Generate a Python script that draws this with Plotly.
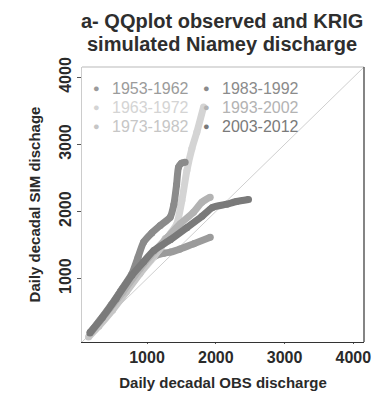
import plotly.graph_objects as go

# ---- data (observed quantile, simulated quantile) ----
decades = ["1953-1962", "1963-1972", "1973-1982", "1983-1992", "1993-2002", "2003-2012"]
colors = ["#9b9b9b", "#d4d4d4", "#c6c6c6", "#8b8b8b", "#b3b3b3", "#7a7a7a"]

obs_1953 = [180, 300, 480, 650, 800, 950, 1100, 1250, 1340, 1480, 1680, 1920]
sim_1953 = [200, 360, 610, 860, 1060, 1230, 1330, 1380, 1395, 1440, 1520, 1617]

obs_1963 = [220, 450, 707, 900, 1095, 1337, 1434, 1507, 1580, 1652, 1725, 1822]
sim_1963 = [230, 530, 830, 1080, 1318, 1667, 1816, 2164, 2612, 2935, 3184, 3557]

obs_1973 = [150, 300, 500, 700, 900, 1050, 1200, 1265]
sim_1973 = [130, 290, 530, 800, 1080, 1280, 1460, 1597]

obs_1983 = [174, 320, 465, 620, 780, 870, 950, 1070, 1192, 1337, 1390, 1430, 1458, 1500, 1555]
sim_1983 = [199, 380, 572, 820, 1070, 1320, 1542, 1680, 1791, 1915, 2100, 2400, 2661, 2720, 2736]

obs_1993 = [200, 400, 650, 900, 1100, 1300, 1483, 1676, 1798, 1919]
sim_1993 = [220, 480, 800, 1150, 1400, 1620, 1816, 1990, 2139, 2214]

obs_2003 = [170, 350, 550, 780, 950, 1100, 1340, 1580, 1800, 1950, 2160, 2300, 2476]
sim_2003 = [190, 420, 700, 1050, 1250, 1420, 1580, 1760, 1930, 2060, 2110, 2150, 2180]

series_obs = [obs_1953, obs_1963, obs_1973, obs_1983, obs_1993, obs_2003]
series_sim = [sim_1953, sim_1963, sim_1973, sim_1983, sim_1993, sim_2003]

x_ticks = [1000, 2000, 3000, 4000]
y_ticks = [1000, 2000, 3000, 4000]
axis_range = [55, 4155]

# layout geometry (pixels)
W, H = 373, 396
ML, MR, MT, MB = 82, 9, 67, 54
PW, PH = W - ML - MR, H - MT - MB


def px_to_paper(px, py):
    return (px - ML) / PW, (H - MB - py) / PH


fig = go.Figure()

# curves
for name, col, xs, ys in zip(decades, colors, series_obs, series_sim):
    fig.add_trace(go.Scatter(
        x=xs, y=ys, mode="lines+markers", name=name, showlegend=False,
        line=dict(color=col, width=7, shape="spline", smoothing=0.6),
        marker=dict(color=col, size=7),
        hoverinfo="skip",
    ))

# 1:1 line
fig.add_shape(type="line", xref="x", yref="y",
              x0=axis_range[0], y0=axis_range[0], x1=axis_range[1], y1=axis_range[1],
              line=dict(color="#cfcfcf", width=1), layer="below")

# box: top and right edges
fig.add_shape(type="line", xref="paper", yref="paper", x0=0, y0=1, x1=1, y1=1,
              line=dict(color="#d0d0d0", width=1.5))
fig.add_shape(type="line", xref="paper", yref="paper", x0=1, y0=0, x1=1, y1=1,
              line=dict(color="#333333", width=1.2))

font_family = "Liberation Sans, Arial, sans-serif"

# title (two lines)
for txt, py in [("a- QQplot observed and KRIG", 21), ("simulated Niamey discharge", 44)]:
    xp, yp = px_to_paper(222, py)
    fig.add_annotation(text="<b>%s</b>" % txt, xref="paper", yref="paper", x=xp, y=yp,
                       xanchor="center", yanchor="middle", showarrow=False,
                       font=dict(size=20, color="#2e2e2e", family=font_family))

# legend drawn as text (2 columns x 3 rows)
leg_pos = {0: (96, 88), 1: (96, 107), 2: (96, 126), 3: (206, 88), 4: (206, 107), 5: (206, 126)}
for i, (mx, my) in leg_pos.items():
    xp, yp = px_to_paper(mx, my)
    fig.add_annotation(text="●", xref="paper", yref="paper", x=xp, y=yp,
                       xanchor="center", yanchor="middle", showarrow=False,
                       font=dict(size=11, color=colors[i], family=font_family))
    xt, yt = px_to_paper(mx + 14, my)
    fig.add_annotation(text=decades[i], xref="paper", yref="paper", x=xt, y=yt,
                       xanchor="left", yanchor="middle", showarrow=False,
                       font=dict(size=16, color=colors[i], family=font_family))

fig.update_layout(
    width=W, height=H,
    margin=dict(l=ML, r=MR, t=MT, b=MB, autoexpand=False),
    paper_bgcolor="white", plot_bgcolor="white",
    font=dict(family=font_family, color="#333333"),
    showlegend=False,
    xaxis=dict(
        range=axis_range, tickvals=x_ticks, ticktext=["<b>%d</b>" % v for v in x_ticks],
        showgrid=False, zeroline=False, automargin=False,
        showline=True, linecolor="#333333", linewidth=1.2, mirror=False,
        ticks="outside", ticklen=1, tickcolor="#555555",
        tickfont=dict(size=16, color="#2a2a2a", family=font_family),
        title=dict(text="<b>Daily decadal OBS discharge</b>", font=dict(size=15, color="#2a2a2a"),
                   standoff=12),
    ),
    yaxis=dict(
        range=axis_range, tickvals=y_ticks, ticktext=["<b>%d</b>" % v for v in y_ticks],
        showgrid=False, zeroline=False, automargin=False,
        showline=True, linecolor="#cccccc", linewidth=1.2, mirror=False,
        ticks="outside", ticklen=4, tickcolor="#555555", tickangle=-90,
        tickfont=dict(size=16, color="#2a2a2a", family=font_family),
        title=dict(text="<b>Daily decadal SIM dischage</b>", font=dict(size=15, color="#2a2a2a"),
                   standoff=12),
    ),
)

fig.write_html("out.html", config={"displayModeBar": False},
               post_script="document.body.style.margin='0px';")
